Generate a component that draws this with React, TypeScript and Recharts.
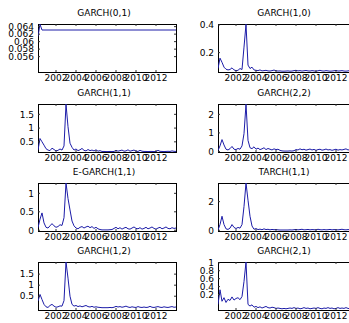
import React from "react";
import { LineChart, Line, XAxis, YAxis, ReferenceArea } from "recharts";

// sample dates (decimal years), shared by the volatility series
const DATES = [
  2000.2, 2000.4, 2000.6, 2000.8,
  2001.0, 2001.2, 2001.4, 2001.6, 2001.8,
  2002.0, 2002.2, 2002.4, 2002.6, 2002.8,
  2003.0, 2003.2, 2003.4, 2003.6, 2003.8,
  2004.0, 2004.2, 2004.4, 2004.6, 2004.8,
  2005.0, 2005.2, 2005.4, 2005.6, 2005.8,
  2006.0, 2006.2, 2006.4, 2006.6, 2006.8,
  2007.0, 2007.2, 2007.4, 2007.6, 2007.8,
  2008.0, 2008.2, 2008.4, 2008.6, 2008.8,
  2009.0, 2009.2, 2009.4, 2009.6, 2009.8,
  2010.0, 2010.2, 2010.4, 2010.6, 2010.8,
  2011.0, 2011.2, 2011.4, 2011.6, 2011.8,
  2012.0, 2012.2, 2012.4, 2012.6, 2012.8,
  2013.0, 2013.2, 2013.4, 2013.6, 2013.8,
  2014.0,
];
const YEARS = [2002, 2004, 2006, 2008, 2010, 2012];
const X_DOMAIN = [2000.2, 2014.0];

// GARCH(0,1) is flat, so it only needs a few points
const GARCH01_DATES = [2000.2, 2000.4, 2000.6, 2014.0];
const GARCH01 = [0.0614, 0.0646, 0.0631, 0.0631];

const GARCH10 = [
  0.085, 0.16, 0.13, 0.095, 0.08, 0.075, 0.078, 0.09, 0.075, 0.07,
  0.072, 0.085, 0.078, 0.24, 0.405, 0.11, 0.085, 0.095, 0.075, 0.072,
  0.07, 0.075, 0.068, 0.07, 0.072, 0.068, 0.067, 0.07, 0.074, 0.069,
  0.067, 0.068, 0.066, 0.066, 0.067, 0.068, 0.066, 0.067, 0.07, 0.072,
  0.068, 0.07, 0.067, 0.069, 0.071, 0.068, 0.067, 0.07, 0.068, 0.066,
  0.069, 0.072, 0.068, 0.067, 0.07, 0.068, 0.066, 0.067, 0.069, 0.071,
  0.067, 0.068, 0.07, 0.067, 0.066, 0.068, 0.071, 0.068, 0.067, 0.069,
];
const GARCH11 = [
  0.2, 0.62, 0.5, 0.38, 0.25, 0.2, 0.18, 0.27, 0.22, 0.17,
  0.19, 0.24, 0.2, 0.35, 1.87, 1.05, 0.45, 0.3, 0.2, 0.24,
  0.18, 0.21, 0.26, 0.19, 0.17, 0.22, 0.18, 0.2, 0.17, 0.21,
  0.16, 0.18, 0.15, 0.15, 0.145, 0.145, 0.15, 0.145, 0.15, 0.19,
  0.16, 0.18, 0.2, 0.16, 0.17, 0.21, 0.16, 0.18, 0.2, 0.16,
  0.15, 0.19, 0.16, 0.15, 0.15, 0.145, 0.15, 0.15, 0.145, 0.15,
  0.19, 0.155, 0.15, 0.145, 0.15, 0.155, 0.15, 0.17, 0.155, 0.15,
];
const GARCH22 = [
  0.05, 0.3, 0.64, 0.35, 0.12, 0.08, 0.15, 0.27, 0.12, 0.1,
  0.16, 0.12, 0.3, 0.96, 2.55, 0.6, 0.2, 0.15, 0.25, 0.12,
  0.18, 0.1, 0.14, 0.2, 0.1, 0.16, 0.12, 0.08, 0.14, 0.1,
  0.12, 0.06, 0.03, 0.02, 0.02, 0.02, 0.03, 0.02, 0.04, 0.1,
  0.08, 0.14, 0.09, 0.12, 0.07, 0.1, 0.13, 0.08, 0.11, 0.06,
  0.1, 0.12, 0.07, 0.09, 0.13, 0.08, 0.1, 0.06, 0.09, 0.12,
  0.07, 0.1, 0.08, 0.11, 0.14, 0.08, 0.1, 0.07, 0.12, 0.09,
];
const EGARCH11 = [
  0.07, 0.3, 0.47, 0.2, 0.08, 0.06, 0.12, 0.18, 0.12, 0.08,
  0.1, 0.15, 0.13, 0.34, 1.28, 0.86, 0.55, 0.25, 0.12, 0.06,
  0.04, 0.08, 0.1, 0.06, 0.09, 0.11, 0.07, 0.1, 0.05, 0.08,
  0.04, 0.02, 0.01, 0.01, 0.01, 0.01, 0.015, 0.02, 0.05, 0.08,
  0.04, 0.07, 0.03, 0.06, 0.08, 0.04, 0.03, 0.06, 0.09, 0.05,
  0.04, 0.07, 0.03, 0.05, 0.08, 0.04, 0.06, 0.09, 0.05, 0.03,
  0.06, 0.08, 0.04, 0.06, 0.09, 0.05, 0.04, 0.07, 0.05, 0.06,
];
const TARCH11 = [
  0.02, 0.4, 0.98, 0.4, 0.1, 0.06, 0.15, 0.4, 0.2, 0.12,
  0.2, 0.15, 0.4, 1.66, 3.3, 2.1, 0.98, 0.3, 0.07, 0.12,
  0.05, 0.08, 0.04, 0.1, 0.05, 0.07, 0.03, 0.06, 0.04, 0.05,
  0.03, 0.02, 0.02, 0.02, 0.02, 0.02, 0.03, 0.02, 0.04, 0.06,
  0.03, 0.05, 0.07, 0.03, 0.04, 0.06, 0.03, 0.05, 0.04, 0.03,
  0.07, 0.04, 0.03, 0.05, 0.03, 0.04, 0.06, 0.03, 0.05, 0.04,
  0.03, 0.05, 0.07, 0.04, 0.03, 0.05, 0.04, 0.06, 0.03, 0.05,
];
const GARCH12 = [
  0.28, 0.58, 0.35, 0.13, 0.02, -0.01, 0.08, 0.13, 0.05, 0.0,
  0.02, 0.06, 0.05, 0.3, 2.05, 1.32, 0.5, 0.13, 0.05, 0.08,
  0.03, 0.06, 0.02, 0.05, 0.08, 0.03, 0.01, 0.04, 0.0, 0.02,
  0.0, -0.01, -0.02, -0.02, -0.02, -0.02, -0.01, -0.02, 0.0, 0.04,
  0.01, 0.03, 0.0, 0.02, 0.05, 0.01, -0.01, 0.02, 0.0, -0.01,
  0.03, 0.0, -0.01, 0.01, -0.01, 0.0, 0.04, 0.0, -0.01, 0.01,
  0.03, 0.0, -0.01, 0.02, 0.0, -0.01, 0.01, 0.03, 0.0, 0.01,
];
const GARCH21 = [
  -0.05, 0.32, 0.03, 0.12, 0.0, 0.08, 0.05, 0.14, 0.06, 0.1,
  0.12, 0.07, 0.15, 0.53, 1.02, -0.05, -0.09, -0.06, -0.12, -0.1,
  -0.13, -0.11, -0.14, -0.12, -0.1, -0.13, -0.14, -0.12, -0.13, -0.15,
  -0.14, -0.15, -0.16, -0.15, -0.16, -0.15, -0.14, -0.15, -0.13, -0.15,
  -0.14, -0.16, -0.15, -0.13, -0.15, -0.14, -0.16, -0.15, -0.14, -0.15,
  -0.13, -0.15, -0.16, -0.14, -0.15, -0.13, -0.15, -0.14, -0.16, -0.15,
  -0.13, -0.15, -0.14, -0.15, -0.13, -0.15, -0.16, -0.14, -0.15, -0.14,
];

// panels in subplot order (row by row, left then right)
const PANELS = [
  { title: "GARCH(0,1)", dates: GARCH01_DATES, values: GARCH01, domain: [0.0519, 0.0647], ticks: [0.056, 0.058, 0.06, 0.062, 0.064] },
  { title: "GARCH(1,0)", dates: DATES, values: GARCH10, domain: [0.06, 0.407], ticks: [0.2, 0.4] },
  { title: "GARCH(1,1)", dates: DATES, values: GARCH11, domain: [0.13, 1.876], ticks: [0.5, 1, 1.5] },
  { title: "GARCH(2,2)", dates: DATES, values: GARCH22, domain: [-0.03, 2.56], ticks: [0, 1, 2] },
  { title: "E-GARCH(1,1)", dates: DATES, values: EGARCH11, domain: [-0.02, 1.28], ticks: [0, 0.5, 1] },
  { title: "TARCH(1,1)", dates: DATES, values: TARCH11, domain: [-0.05, 3.3], ticks: [0, 2] },
  { title: "GARCH(1,2)", dates: DATES, values: GARCH12, domain: [-0.125, 2.05], ticks: [0.5, 1, 1.5] },
  { title: "GARCH(2,1)", dates: DATES, values: GARCH21, domain: [-0.19, 1.02], ticks: [0.2, 0.4, 0.6, 0.8, 1] },
];

const FONT = "'DejaVu Sans', Verdana, sans-serif";
const PLOT_W = 138;
const PLOT_H = 48;
const AXIS_W = 38;
const PAD_TOP = 8;
const COL_LEFT = [38, 218];
const ROW_TOP = [24, 104, 183, 262];
const LINE = "#1c1ca8";
const TICK = "#333";

const XTick = (props: any) => {
  const { x, y, payload } = props;
  const bottom = y - 3;
  return (
    <g>
      <line x1={x} x2={x} y1={bottom} y2={bottom - 2} stroke={TICK} />
      <line x1={x} x2={x} y1={bottom - PLOT_H} y2={bottom - PLOT_H + 2} stroke={TICK} />
      <text x={x} y={y} dy="0.71em" textAnchor="middle" fontSize={9} fontFamily={FONT} fill="#000">{payload.value}</text>
    </g>
  );
};

const YTick = (props: any) => {
  const { x, y, payload } = props;
  const left = x + 4;
  return (
    <g>
      <line x1={left} x2={left + 2} y1={y} y2={y} stroke={TICK} />
      <line x1={left + PLOT_W} x2={left + PLOT_W - 2} y1={y} y2={y} stroke={TICK} />
      <text x={x} y={y} dy="0.36em" textAnchor="end" fontSize={9} fontFamily={FONT} fill="#000">{String(payload.value)}</text>
    </g>
  );
};

const Panel = ({ p, left, top }: any) => {
  const data = p.dates.map((t: number, i: number) => ({ t, v: p.values[i] }));
  return (
    <>
      <div style={{ position: "absolute", left: left + PLOT_W / 2 - 53, top: top - 17, width: 100, textAlign: "center", fontSize: 9, lineHeight: "12px", fontFamily: FONT, color: "#000" }}>
        {p.title}
      </div>
      <div style={{ position: "absolute", left: left - AXIS_W, top: top - PAD_TOP }}>
        <LineChart width={AXIS_W + PLOT_W + 4} height={PAD_TOP + PLOT_H + 14} data={data} margin={{ top: PAD_TOP, right: 4, left: 0, bottom: 0 }}>
          <XAxis dataKey="t" type="number" domain={X_DOMAIN} ticks={YEARS} interval={0} allowDataOverflow
            height={14} tickSize={0} tickMargin={3} axisLine={false} tickLine={false} tick={<XTick />} />
          <YAxis type="number" domain={p.domain} ticks={p.ticks} interval={0} allowDataOverflow
            width={AXIS_W} tickSize={0} tickMargin={4} axisLine={false} tickLine={false} tick={<YTick />} />
          <Line dataKey="v" type="linear" stroke={LINE} strokeWidth={1} dot={false} isAnimationActive={false} />
          <ReferenceArea x1={X_DOMAIN[0]} x2={X_DOMAIN[1]} y1={p.domain[0]} y2={p.domain[1]}
            fill="none" fillOpacity={0} stroke="#000" strokeWidth={1} shapeRendering="crispEdges" ifOverflow="visible" />
        </LineChart>
      </div>
    </>
  );
};

export default function App() {
  return (
    <div style={{ position: "absolute", left: 0, top: 0, width: 349, height: 323, overflow: "hidden", background: "#fff" }}>
      {PANELS.map((p, i) => (
        <Panel key={p.title} p={p} left={COL_LEFT[i % 2]} top={ROW_TOP[Math.floor(i / 2)]} />
      ))}
    </div>
  );
}
